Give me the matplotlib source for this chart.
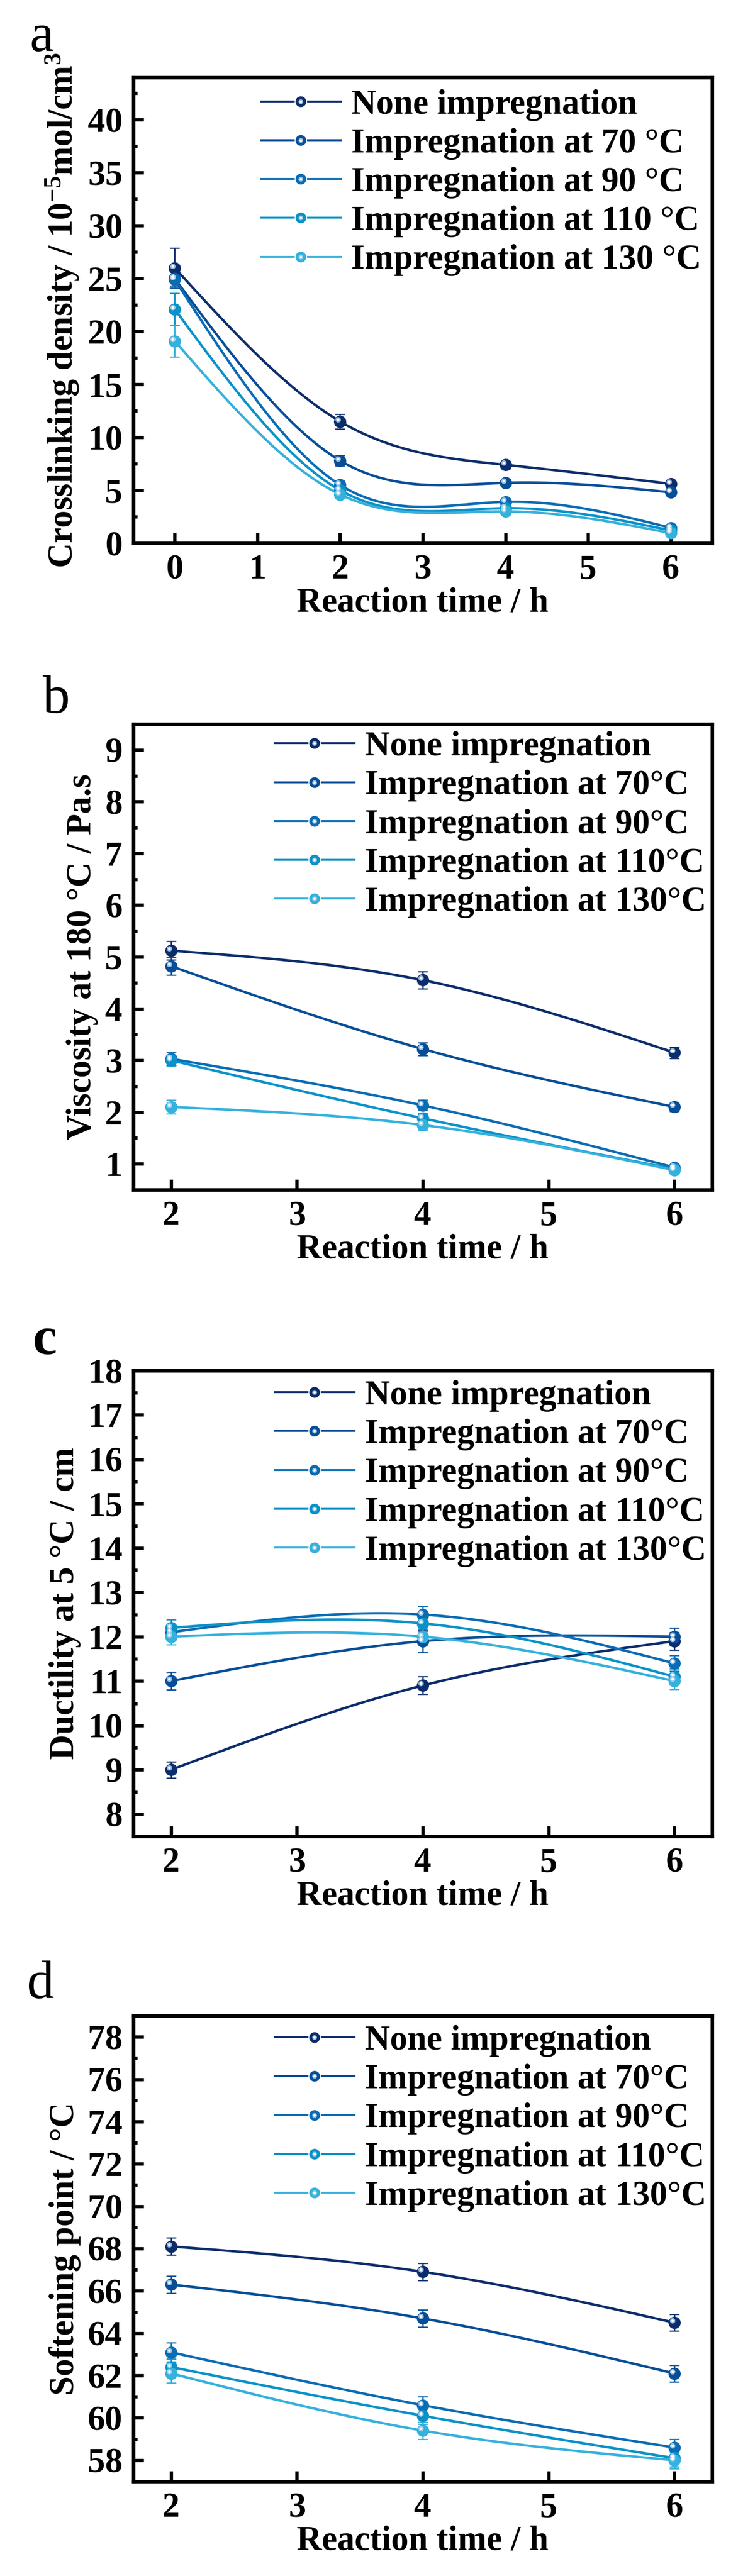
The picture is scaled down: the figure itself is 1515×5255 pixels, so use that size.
import numpy as np
import matplotlib
matplotlib.use("Agg")
import matplotlib.pyplot as plt
from matplotlib.lines import Line2D
from matplotlib.ticker import MultipleLocator
from matplotlib.transforms import offset_copy

plt.rcParams['font.family'] = ['Liberation Serif', 'DejaVu Serif']
plt.rcParams['font.weight'] = 'bold'
plt.rcParams['mathtext.fontset'] = 'custom'
plt.rcParams['mathtext.rm'] = 'Liberation Serif:bold'
plt.rcParams['mathtext.it'] = 'Liberation Serif:bold:italic'
plt.rcParams['mathtext.bf'] = 'Liberation Serif:bold'

# ---------------- data ----------------
labels_a = ["None impregnation", "Impregnation at 70 \u00b0C", "Impregnation at 90 \u00b0C",
            "Impregnation at 110 \u00b0C", "Impregnation at 130 \u00b0C"]
labels_bcd = ["None impregnation", "Impregnation at 70\u00b0C", "Impregnation at 90\u00b0C",
              "Impregnation at 110\u00b0C", "Impregnation at 130\u00b0C"]
colors = ["#0c2d6c", "#074e98", "#0a6cb4", "#0a92c8", "#35b1dc"]

time_a = [0, 2, 4, 6]
cross_vals = [[26.0, 11.5, 7.4, 5.6],
              [25.0, 7.8, 5.7, 4.8],
              [24.9, 5.5, 3.9, 1.45],
              [22.1, 5.0, 3.3, 1.2],
              [19.1, 4.6, 3.0, 0.95]]
cross_err = [[1.9, 0.7, 0.35, 0.3],
             [0.7, 0.5, 0.3, 0.3],
             [0.75, 0.4, 0.3, 0.3],
             [1.5, 0.3, 0.3, 0.3],
             [1.5, 0.3, 0.3, 0.3]]

time_bcd = [2, 4, 6]
visc_vals = [[5.12, 4.55, 3.15],
             [4.82, 3.22, 2.10],
             [3.03, 2.13, 0.93],
             [3.00, 1.88, 0.90],
             [2.10, 1.75, 0.88]]
visc_err = [[0.18, 0.17, 0.11],
            [0.17, 0.12, 0.08],
            [0.12, 0.10, 0.05],
            [0.10, 0.10, 0.05],
            [0.13, 0.10, 0.05]]

duct_vals = [[9.0, 10.9, 11.9],
             [11.0, 11.9, 12.0],
             [12.1, 12.5, 11.4],
             [12.2, 12.3, 11.1],
             [12.0, 12.0, 11.0]]
duct_err = [[0.18, 0.2, 0.2],
            [0.2, 0.25, 0.2],
            [0.18, 0.18, 0.18],
            [0.18, 0.18, 0.18],
            [0.18, 0.18, 0.18]]

soft_vals = [[68.1, 66.9, 64.5],
             [66.3, 64.7, 62.1],
             [63.1, 60.6, 58.6],
             [62.4, 60.1, 58.1],
             [62.1, 59.4, 58.0]]
soft_err = [[0.4, 0.4, 0.4],
            [0.4, 0.4, 0.4],
            [0.45, 0.4, 0.4],
            [0.4, 0.4, 0.4],
            [0.45, 0.4, 0.4]]


def natural_spline(x, y, num=300):
    """smooth line through the points (natural cubic spline)"""
    x = np.asarray(x, float)
    y = np.asarray(y, float)
    n = len(x)
    h = np.diff(x)
    A = np.zeros((n, n))
    r = np.zeros(n)
    A[0, 0] = A[-1, -1] = 1
    for i in range(1, n - 1):
        A[i, i - 1] = h[i - 1]
        A[i, i] = 2 * (h[i - 1] + h[i])
        A[i, i + 1] = h[i]
        r[i] = 3 * ((y[i + 1] - y[i]) / h[i] - (y[i] - y[i - 1]) / h[i - 1])
    c = np.linalg.solve(A, r)
    b = (y[1:] - y[:-1]) / h - h * (2 * c[:-1] + c[1:]) / 3
    d = (c[1:] - c[:-1]) / (3 * h)
    xs = np.linspace(x[0], x[-1], num)
    idx = np.clip(np.searchsorted(x, xs) - 1, 0, n - 2)
    dx = xs - x[idx]
    ys = y[idx] + b[idx] * dx + c[idx] * dx ** 2 + d[idx] * dx ** 3
    return xs, ys


fig = plt.figure(figsize=(15.15, 52.55), dpi=100)

FS = 51
W_AX = 1180 / 1515
H_AX = 950 / 5255


def draw_panel(rect, x, vals, errs, labels, xlim, ylim, ymajor, yminor, ylabel,
               leg_anchor, letter, letter_pos, letter_weight='normal'):
    ax = fig.add_axes(rect)
    hl = offset_copy(ax.transData, fig=fig, x=-4, y=4, units='dots')
    handles = []
    for k in range(len(vals)):
        col = colors[k]
        xs, ys = natural_spline(x, vals[k])
        ax.plot(xs, ys, color=col, lw=3.6, zorder=2)
        ax.errorbar(x, vals[k], yerr=errs[k], fmt='none', ecolor=col,
                    elinewidth=2.0, capsize=7.5, capthick=1.8, zorder=3)
        ax.plot(x, vals[k], 'o', color=col, ms=17, mec=col, zorder=4)
        ax.plot(x, vals[k], 'o', color='#bcd8ee', ms=8, mew=0, alpha=0.8,
                transform=hl, zorder=5)
        ax.plot(x, vals[k], 'o', color='white', ms=4, mew=0,
                transform=hl, zorder=6)
        h1 = Line2D([], [], color=col, lw=2.8, marker='o', ms=17, mfc=col,
                    mec='white', mew=1.2)
        h2 = Line2D([], [], ls='none', marker='o', ms=7, mfc='#bcd8ee', mew=0, alpha=0.8)
        h3 = Line2D([], [], ls='none', marker='o', ms=3.5, mfc='white', mew=0)
        handles.append((h1, h2, h3))

    ax.set_xlim(*xlim)
    ax.set_ylim(*ylim)
    ax.xaxis.set_major_locator(MultipleLocator(1))
    ax.yaxis.set_major_locator(MultipleLocator(ymajor))
    ax.yaxis.set_minor_locator(MultipleLocator(yminor))
    ax.tick_params(axis='both', which='major', direction='in', length=15, width=4.8,
                   labelsize=FS, pad=16)
    ax.tick_params(axis='y', which='minor', direction='in', length=6, width=4.8)
    for lab in ax.get_xticklabels() + ax.get_yticklabels():
        lab.set_fontweight('bold')
    for sp in ax.spines.values():
        sp.set_linewidth(5.2)
    ax.set_xlabel("Reaction time / h", fontsize=FS, fontweight='bold', labelpad=2)
    ax.set_ylabel(ylabel, fontsize=FS, fontweight='bold', labelpad=10)

    ax.legend(handles, labels, loc='upper left', bbox_to_anchor=leg_anchor,
              frameon=False, handlelength=2.3, handletextpad=0.3, labelspacing=0.2,
              borderpad=0, borderaxespad=0,
              prop={'family': 'Liberation Serif', 'weight': 'bold', 'size': FS})
    fig.text(letter_pos[0], letter_pos[1], letter, fontsize=80, fontweight=letter_weight,
             ha='left', va='baseline')
    return ax


left = 272 / 1515
draw_panel([left, 1 - 1108 / 5255, W_AX, H_AX], time_a, cross_vals, cross_err, labels_a,
           (-0.5, 6.5), (0, 44), 5, 2.5,
           r"Crosslinking density / 10$^{-5}$mol/cm$^{3}$",
           (0.22, 0.975), "a", (60 / 1515, 1 - 104 / 5255))

draw_panel([left, 1 - 2427 / 5255, W_AX, H_AX], time_bcd, visc_vals, visc_err, labels_bcd,
           (1.7, 6.3), (0.5, 9.5), 1, 0.5,
           "Viscosity at 180 \u00b0C / Pa.s",
           (0.244, 0.985), "b", (87 / 1515, 1 - 1454 / 5255))

draw_panel([left, 1 - 3746 / 5255, W_AX, H_AX], time_bcd, duct_vals, duct_err, labels_bcd,
           (1.7, 6.3), (7.5, 18), 1, 0.5,
           "Ductility at 5 \u00b0C / cm",
           (0.244, 0.98), "c", (66 / 1515, 1 - 2762 / 5255), 'bold')

draw_panel([left, 1 - 5062 / 5255, W_AX, H_AX], time_bcd, soft_vals, soft_err, labels_bcd,
           (1.7, 6.3), (57, 79), 2, 1,
           "Softening point / \u00b0C",
           (0.244, 0.98), "d", (55 / 1515, 1 - 4076 / 5255))

fig.savefig("out.png", dpi=100)
